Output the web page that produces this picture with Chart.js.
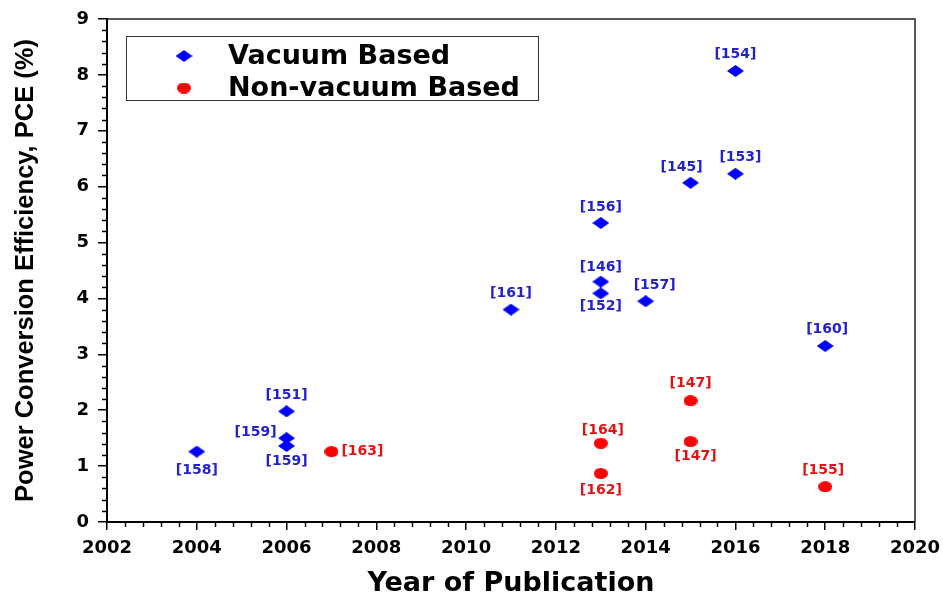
<!DOCTYPE html>
<html>
<head>
<meta charset="utf-8">
<script src="https://cdn.jsdelivr.net/npm/chart.js@4.4.1/dist/chart.umd.min.js"></script>
<style>
  html, body { margin: 0; padding: 0; background: #fff; }
  #wrap { width: 943px; height: 597px; }
</style>
</head>
<body>
<div id="wrap"><canvas id="c" width="943" height="597"></canvas></div>
<script>
// ---- Data ----
const vacuumYears = [2004, 2006, 2006, 2006, 2011, 2013, 2013, 2013, 2014, 2015, 2016, 2016, 2018];
const vacuumPCE   = [1.26, 1.50, 1.36, 1.98, 3.80, 5.35, 4.30, 4.09, 3.95, 6.07, 6.23, 8.07, 3.15];
const vacuumRefs  = ['[158]','[159]','[159]','[151]','[161]','[156]','[146]','[152]','[157]','[145]','[153]','[154]','[160]'];

const nonVacYears = [2007, 2013, 2013, 2015, 2015, 2018];
const nonVacPCE   = [1.26, 1.41, 0.87, 2.17, 1.44, 0.63];
const nonVacRefs  = ['[163]','[164]','[162]','[147]','[147]','[155]'];

const xTickValues = [2002, 2004, 2006, 2008, 2010, 2012, 2014, 2016, 2018, 2020];
const yTickValues = [0, 1, 2, 3, 4, 5, 6, 7, 8, 9];

const seriesNames = ['Vacuum Based', 'Non-vacuum Based'];
const xTitle = 'Year of Publication';
const yTitle = 'Power Conversion Efficiency, PCE (%)';

// ---- Label placement (style only) ----
const vacuumLabelOffsets = [[0,19],[-31,-6],[0,15],[0,-16],[0,-16],[0,-16],[0,-14],[0,13],[9,-16],[-9,-15],[5,-16],[0,-17],[2,-17]];
const nonVacLabelOffsets = [[31,0],[2,-13],[0,17],[0,-17],[5,15],[-2,-16]];

const BLUE = '#0000ff', RED = '#ff0000';
const BLUE_TXT = '#2222cc', RED_TXT = '#e01414';
const FONT = "'DejaVu Sans', 'Liberation Sans', Arial, sans-serif";

function diamondImg(w, h, color) {
  const c = document.createElement('canvas');
  c.width = w; c.height = h;
  const g = c.getContext('2d');
  g.fillStyle = color;
  g.beginPath();
  g.moveTo(w/2, 0); g.lineTo(w, h/2); g.lineTo(w/2, h); g.lineTo(0, h/2); g.closePath();
  g.fill();
  return c;
}
function ellipseImg(w, h, color) {
  const c = document.createElement('canvas');
  c.width = w; c.height = h;
  const g = c.getContext('2d');
  g.fillStyle = color;
  g.beginPath();
  g.ellipse(w/2, h/2, w/2, h/2, 0, 0, Math.PI*2);
  g.fill();
  return c;
}
const diamond = diamondImg(17, 12, BLUE);
const ellipse = ellipseImg(14, 11, RED);

const toPts = (xs, ys) => xs.map((x, i) => ({x: x, y: ys[i]}));

const frameAndMinor = {
  id: 'frameAndMinor',
  afterDraw(chart) {
    const ctx = chart.ctx, a = chart.chartArea;
    const xs = chart.scales.x, ys = chart.scales.y;
    ctx.save();
    ctx.strokeStyle = '#222';
    ctx.lineWidth = 1.5;
    ctx.beginPath();
    ctx.moveTo(a.left, a.top); ctx.lineTo(a.right, a.top); ctx.lineTo(a.right, a.bottom);
    ctx.stroke();
    ctx.strokeStyle = '#000';
    ctx.lineWidth = 1.5;
    ctx.beginPath();
    for (let i = 0; i <= 45; i++) {
      const v = 2002 + i * 0.4;
      if (i % 5 === 0) continue;
      const px = Math.round(xs.getPixelForValue(v)) + 0.5;
      ctx.moveTo(px, a.bottom); ctx.lineTo(px, a.bottom + 5);
    }
    for (let i = 0; i <= 45; i++) {
      const v = i * 0.2;
      if (i % 5 === 0) continue;
      const py = Math.round(ys.getPixelForValue(v)) + 0.5;
      ctx.moveTo(a.left - 5, py); ctx.lineTo(a.left, py);
    }
    ctx.stroke();
    ctx.restore();
  }
};

const pointLabels = {
  id: 'pointLabels',
  afterDatasetsDraw(chart) {
    const ctx = chart.ctx;
    const sets = [
      {refs: vacuumRefs, off: vacuumLabelOffsets, color: BLUE_TXT},
      {refs: nonVacRefs, off: nonVacLabelOffsets, color: RED_TXT}
    ];
    ctx.save();
    ctx.font = "bold 14px " + FONT;
    ctx.textAlign = 'center';
    ctx.textBaseline = 'middle';
    sets.forEach((s, di) => {
      const meta = chart.getDatasetMeta(di);
      ctx.fillStyle = s.color;
      meta.data.forEach((el, i) => {
        ctx.fillText(s.refs[i], el.x + s.off[i][0], el.y + s.off[i][1]);
      });
    });
    ctx.restore();
  }
};

const boxLegend = {
  id: 'boxLegend',
  afterDraw(chart) {
    const ctx = chart.ctx;
    ctx.save();
    ctx.strokeStyle = '#333';
    ctx.lineWidth = 1;
    ctx.strokeRect(126.5, 36.5, 412, 64);
    const imgs = [diamond, ellipse];
    const rows = [56, 88];
    ctx.font = "bold 27px " + FONT;
    ctx.fillStyle = '#000';
    ctx.textAlign = 'left';
    ctx.textBaseline = 'middle';
    chart.data.datasets.forEach((ds, i) => {
      const im = imgs[i];
      ctx.drawImage(im, 184 - im.width/2, rows[i] - im.height/2);
      ctx.fillText(ds.label, 228, rows[i] + 1);
    });
    ctx.restore();
  }
};

new Chart(document.getElementById('c'), {
  type: 'scatter',
  data: {
    datasets: [
      { label: seriesNames[0], data: toPts(vacuumYears, vacuumPCE), pointStyle: diamond, backgroundColor: BLUE, borderColor: BLUE },
      { label: seriesNames[1], data: toPts(nonVacYears, nonVacPCE), pointStyle: ellipse, backgroundColor: RED, borderColor: RED }
    ]
  },
  options: {
    responsive: false,
    animation: false,
    layout: { padding: { left: 0, top: 19, right: 28, bottom: 0 } },
    plugins: { legend: { display: false }, tooltip: { enabled: false } },
    scales: {
      x: {
        type: 'linear', min: 2002, max: 2020,
        afterBuildTicks: s => { s.ticks = xTickValues.map(v => ({value: v})); },
        afterFit: s => { s.height = 75; s.paddingLeft = 0; s.paddingRight = 0; },
        ticks: { color: '#000', font: { family: FONT, weight: 'bold', size: 18 }, padding: 8, maxRotation: 0, callback: v => String(v) },
        grid: { drawOnChartArea: false, drawTicks: true, tickLength: 8, color: '#000', lineWidth: 1.5 },
        border: { color: '#000', width: 2 },
        title: { display: true, text: xTitle, color: '#000', font: { family: FONT, weight: 'bold', size: 27, lineHeight: 1.0 }, padding: 0 }
      },
      y: {
        min: 0, max: 9,
        afterBuildTicks: s => { s.ticks = yTickValues.map(v => ({value: v})); },
        afterFit: s => { s.width = 107; s.paddingTop = 0; s.paddingBottom = 0; },
        ticks: { color: '#000', font: { family: FONT, weight: 'bold', size: 18 }, padding: 9, callback: v => String(v) },
        grid: { drawOnChartArea: false, drawTicks: true, tickLength: 9, color: '#000', lineWidth: 1.5 },
        border: { color: '#000', width: 2 },
        title: { display: true, text: yTitle, color: '#000', font: { family: "'Liberation Sans', Arial, sans-serif", weight: 'bold', size: 25.5, lineHeight: 2.0 }, padding: 0 }
      }
    }
  },
  plugins: [frameAndMinor, pointLabels, boxLegend]
});
</script>
</body>
</html>
